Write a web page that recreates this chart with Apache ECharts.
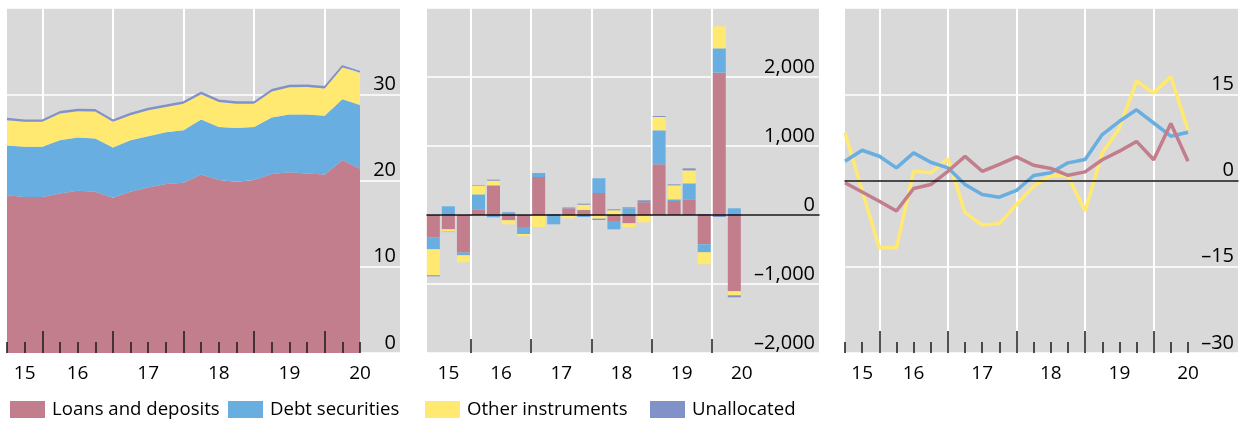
<!DOCTYPE html>
<html><head><meta charset="utf-8">
<script src="https://cdn.jsdelivr.net/npm/echarts@6/dist/echarts.min.js"></script>
<style>html,body{margin:0;padding:0;background:#fff}#c{width:1244px;height:421px}</style>
</head><body><div id="c"></div>
<script>
// ---- data ----
const quarters = ['2015-Q2','2015-Q3','2015-Q4','2016-Q1','2016-Q2','2016-Q3','2016-Q4','2017-Q1','2017-Q2','2017-Q3','2017-Q4',
  '2018-Q1','2018-Q2','2018-Q3','2018-Q4','2019-Q1','2019-Q2','2019-Q3','2019-Q4','2020-Q1','2020-Q2'];
const yearLabels = ['15','16','17','18','19','20'];
const seriesNames = ['Loans and deposits','Debt securities','Other instruments','Unallocated'];

// Panel 1: stocks
const loansStock   = [18.3,18.1,18.1,18.5,18.8,18.7,18.0,18.7,19.2,19.6,19.75,20.7,20.05,19.85,20.05,20.75,20.95,20.8,20.7,22.35,21.4];
const debtStock    = [5.77,5.8,5.8,6.18,6.18,6.17,5.83,5.98,5.94,5.99,6.09,6.38,6.15,6.25,6.15,6.56,6.71,6.85,6.8,7.07,7.34];
const otherStock   = [2.93,2.9,2.9,3.08,3.05,3.13,2.97,2.89,3.01,2.93,3.06,2.92,2.9,2.8,2.7,3.0,3.15,3.2,3.16,3.67,3.66];
const unallocStock = [0.2,0.2,0.2,0.2,0.2,0.2,0.2,0.2,0.2,0.2,0.2,0.2,0.2,0.2,0.2,0.2,0.2,0.2,0.2,0.2,0.2];

// Panel 2: flows
const loansFlow   = [-328,-208,-546,82,430,-77,-174,551,0,97,72,319,-87,-121,184,735,203,227,-425,2063,-1106];
const debtFlow    = [-169,126,-39,217,-34,39,-101,58,-135,0,-29,213,-121,97,0,492,24,232,-116,352,97];
const otherFlow   = [-377,-34,-101,121,68,-58,-34,-174,0,-48,77,-53,68,-53,-106,193,203,188,-174,319,-58];
const unallocFlow = [-15,-5,0,8,14,5,0,0,12,12,15,-19,15,14,29,15,14,29,15,-29,-29];

// Panel 3: growth
const loansGrowth = [-0.4,-2.0,-3.6,-5.3,-1.4,-0.7,1.6,4.2,1.6,2.8,4.1,2.65,2.1,0.9,1.5,3.6,5.1,6.8,3.6,9.9,3.35];
const debtGrowth  = [3.35,5.26,4.22,2.2,4.8,3.18,2.2,-0.69,-2.43,-2.9,-1.73,0.87,1.33,3.07,3.64,7.98,10.3,12.3,10.0,7.7,8.4];
const otherGrowth = [8.3,-1.8,-11.7,-11.7,1.6,1.33,3.76,-5.6,-7.75,-7.5,-4.16,-1.0,0.9,0.75,-5.3,4.8,9.1,17.3,15.2,18.1,8.8];

// ---- axis config ----
const labelQ = [1,4,8,12,16,20], boundaryQ = [2,6,10,14,18];
const labelQ2 = [1,4.5,8.5,12.5,16.5,20.5], boundaryQ2 = [2.5,6.5,10.5,14.5,18.5];
const colors = ['#c27e8d','#68aee0','#ffe970','#8192c9'];
const FONT = '"Open Sans","Noto Sans",sans-serif';
const GRAY = '#d9d9d9';

function fmt(v){ const s = Math.abs(v).toLocaleString('en-US'); return v<0 ? '\u2013'+s : s; }
function labelAt(pos, arr){ const j = arr.indexOf(pos); return j>=0 ? yearLabels[j] : ''; }

const TOP = 8, H = 345;
const grids = [
  {left:7, top:TOP, width:393, height:H, show:true, backgroundColor:GRAY, borderWidth:0},
  {left:7, top:TOP, width:353, height:H},
  {left:427, top:TOP, width:392, height:H, show:true, backgroundColor:GRAY, borderWidth:0},
  {left:425.8, top:TOP, width:391.3, height:H},
  {left:845, top:TOP, width:393, height:H, show:true, backgroundColor:GRAY, borderWidth:0},
  {left:845, top:TOP, width:343, height:H}
];

function bgY(g,min,max,interval){
  return {type:'value', gridIndex:g, min, max, interval, position:'right',
    axisLine:{show:false,onZero:false}, axisTick:{show:false},
    axisLabel:{inside:true, margin:4, fontSize:20, fontFamily:FONT, color:'#000', verticalAlign:'bottom',
      formatter: v => v===max ? '' : fmt(v)},
    splitLine:{show:true, lineStyle:{color:'#fff', width:1.5}}};
}
function dataY(g,min,max){ return {type:'value', gridIndex:g, min, max, show:false}; }
function bgX(g,zero){
  return {type:'value', gridIndex:g, min:0, max:1, show:zero, z:10,
    axisLine:{show:true, onZero:true, lineStyle:{color:'#111', width:1.5}},
    axisTick:{show:false}, axisLabel:{show:false}, splitLine:{show:false}};
}
function mainX(g){
  return {type:'category', gridIndex:g, data:quarters, boundaryGap:false, position:'bottom',
    axisLine:{show:false,onZero:false}, axisTick:{show:false}, axisLabel:{show:false},
    splitLine:{show:true, interval:(i)=>boundaryQ.includes(i), lineStyle:{color:'#fff', width:2}}};
}
function smallTickX(g){
  return {type:'category', gridIndex:g, data:quarters, boundaryGap:false, position:'bottom', z:5,
    axisLine:{show:false,onZero:false},
    axisTick:{show:true, inside:true, length:11, interval:0, lineStyle:{color:'#1a1a1a', width:1.5}},
    axisLabel:{show:true, interval:0, margin:11, fontSize:19, fontFamily:FONT, color:'#000',
      formatter:(v,i)=>labelAt(i,labelQ)},
    splitLine:{show:false}};
}
function bigTickX(g){
  return {type:'category', gridIndex:g, data:quarters, boundaryGap:false, position:'bottom', z:5,
    axisLine:{show:false,onZero:false},
    axisTick:{show:true, inside:true, length:22, interval:(i)=>boundaryQ.includes(i), lineStyle:{color:'#1a1a1a', width:1.5}},
    axisLabel:{show:false}, splitLine:{show:false}};
}
const padQ = quarters.concat(['2020-Q3','2020-Q4','2021-Q1','2021-Q2','2021-Q3']);
const halfSteps = Array.from({length: padQ.length*2+1}, (_,k)=>'h'+k);

const xAxes = [
  bgX(0,false), mainX(1), smallTickX(1), bigTickX(1),
  bgX(2,true),
  {type:'category', gridIndex:3, data:padQ, show:false},
  {type:'category', gridIndex:3, data:halfSteps, boundaryGap:false, position:'bottom',
    axisLine:{show:false,onZero:false},
    axisTick:{show:true, inside:true, length:14, interval:(k)=>boundaryQ2.includes(k/2-0.5), lineStyle:{color:'#1a1a1a', width:1.5}},
    axisLabel:{show:true, interval:0, margin:11, fontSize:19, fontFamily:FONT, color:'#000',
      formatter:(v,k)=>labelAt(k/2-0.5,labelQ2)},
    splitLine:{show:true, interval:(k)=>boundaryQ2.includes(k/2-0.5), lineStyle:{color:'#fff', width:2}}},
  bgX(4,true), mainX(5), smallTickX(5), bigTickX(5)
];
const yAxes = [bgY(0,0,40,10), dataY(1,0,40), bgY(2,-2000,3000,1000), dataY(3,-2000,3000), bgY(4,-30,30,15), dataY(5,-30,30)];

const stockData = [loansStock, debtStock, otherStock, unallocStock];
const flowData = [loansFlow, debtFlow, otherFlow, unallocFlow];
const series = [];
stockData.forEach((d,j)=>{
  series.push({type:'line', name:seriesNames[j], xAxisIndex:1, yAxisIndex:1, stack:'stock', data:d,
    symbol:'none', smooth:false,
    lineStyle: j===3 ? {color:colors[3], width:1.5} : {width:0, color:colors[j]},
    areaStyle:{color:colors[j], opacity:1}, itemStyle:{color:colors[j]}});
});
flowData.forEach((d,j)=>{
  series.push({type:'bar', name:seriesNames[j], xAxisIndex:5, yAxisIndex:3, stack:'flow', data:d,
    barWidth:13, itemStyle:{color:colors[j]}});
});
[[2,otherGrowth],[1,debtGrowth],[0,loansGrowth]].forEach(([j,d])=>{
  series.push({type:'line', name:seriesNames[j], xAxisIndex:8, yAxisIndex:5, data:d,
    symbol:'none', lineStyle:{color:colors[j], width:3.5}, itemStyle:{color:colors[j]}});
});

const legendLefts = [10,228,425,650];
const legends = seriesNames.map((n,j)=>({
  left:legendLefts[j], top:400, padding:0, icon:'rect', itemWidth:35, itemHeight:17, selectedMode:false,
  data:[{name:n, itemStyle:{color:colors[j]}}],
  textStyle:{fontSize:18.6, fontFamily:FONT, color:'#000', padding:[0,0,0,2]}
}));

const chart = echarts.init(document.getElementById('c'), null, {renderer:'canvas'});
chart.setOption({
  animation:false, backgroundColor:'#fff',
  grid:grids, xAxis:xAxes, yAxis:yAxes, series, legend:legends
});
</script></body></html>
